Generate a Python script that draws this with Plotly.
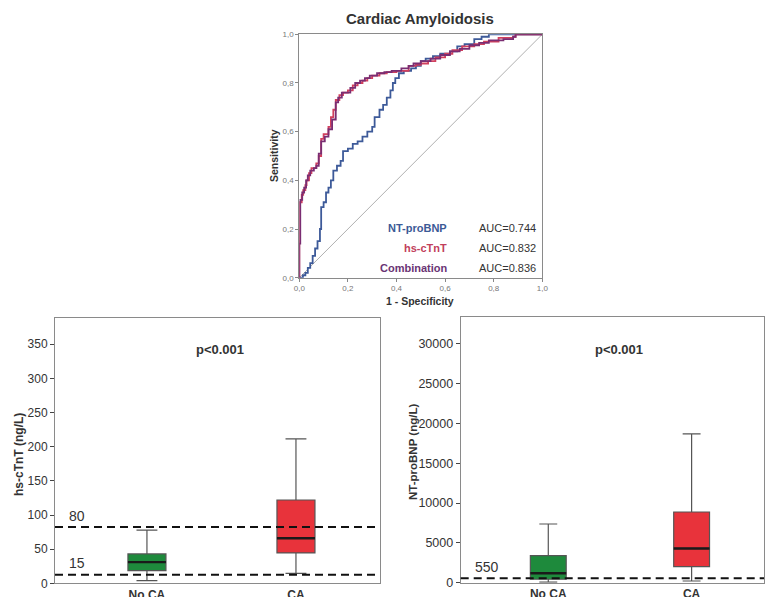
import plotly.graph_objects as go

W, H = 766, 597

# ---------------- ROC data ----------------
nt_fpr = [0, 0.015, 0.025, 0.035, 0.045, 0.055, 0.065, 0.075, 0.085, 0.09, 0.1, 0.11, 0.12, 0.13, 0.14,
          0.155, 0.17, 0.18, 0.2, 0.22, 0.24, 0.26, 0.28, 0.3, 0.31, 0.33, 0.345, 0.36, 0.375, 0.385,
          0.395, 0.41, 0.43, 0.46, 0.48, 0.5, 0.52, 0.55, 0.58, 0.62, 0.65, 0.68, 0.72, 0.75, 0.78, 0.88, 1.0]
nt_tpr = [0, 0.01, 0.02, 0.04, 0.06, 0.09, 0.12, 0.15, 0.2, 0.29, 0.31, 0.35, 0.37, 0.40, 0.44,
          0.46, 0.48, 0.52, 0.53, 0.55, 0.56, 0.58, 0.60, 0.62, 0.66, 0.69, 0.71, 0.74, 0.77, 0.80,
          0.82, 0.84, 0.85, 0.86, 0.87, 0.89, 0.90, 0.91, 0.92, 0.93, 0.95, 0.96, 0.98, 0.99, 1.0, 1.0, 1.0]

tn_fpr = [0, 0.0, 0.003, 0.01, 0.016, 0.025, 0.03, 0.04, 0.05, 0.07, 0.08, 0.09, 0.1, 0.12, 0.13,
          0.14, 0.15, 0.165, 0.18, 0.2, 0.22, 0.24, 0.26, 0.28, 0.3, 0.33, 0.36, 0.4, 0.45, 0.48,
          0.5, 0.53, 0.56, 0.6, 0.63, 0.67, 0.72, 0.76, 0.82, 0.88, 0.89, 1.0]
tn_tpr = [0, 0.15, 0.31, 0.34, 0.36, 0.38, 0.40, 0.43, 0.45, 0.47, 0.50, 0.57, 0.59, 0.62, 0.66,
          0.69, 0.73, 0.75, 0.76, 0.77, 0.79, 0.80, 0.81, 0.82, 0.83, 0.84, 0.845, 0.85, 0.87, 0.875,
          0.88, 0.89, 0.905, 0.92, 0.935, 0.95, 0.96, 0.97, 0.985, 0.99, 1.0, 1.0]

cb_fpr = [0, 0.0, 0.004, 0.012, 0.02, 0.028, 0.035, 0.045, 0.06, 0.07, 0.08, 0.09, 0.105, 0.12, 0.135,
          0.15, 0.16, 0.175, 0.19, 0.21, 0.23, 0.25, 0.27, 0.29, 0.32, 0.35, 0.38, 0.42, 0.45, 0.47,
          0.5, 0.54, 0.58, 0.62, 0.66, 0.7, 0.74, 0.78, 0.84, 0.88, 0.89, 1.0]
cb_tpr = [0, 0.14, 0.32, 0.35, 0.37, 0.40, 0.42, 0.44, 0.45, 0.46, 0.51, 0.56, 0.58, 0.61, 0.65,
          0.72, 0.74, 0.76, 0.76, 0.78, 0.80, 0.81, 0.82, 0.83, 0.84, 0.845, 0.85, 0.86, 0.87, 0.88,
          0.89, 0.90, 0.915, 0.93, 0.94, 0.955, 0.965, 0.975, 0.98, 0.99, 1.0, 1.0]

roc_names = ["NT-proBNP", "hs-cTnT", "Combination"]
roc_auc = ["AUC=0.744", "AUC=0.832", "AUC=0.836"]
roc_ticks = [0, 0.2, 0.4, 0.6, 0.8, 1.0]
roc_ticktext = ["0,0", "0,2", "0,4", "0,6", "0,8", "1,0"]

# ---------------- Box data ----------------
categories = ["No CA", "CA"]
tnt_lower = [4, 14.6]
tnt_q1 = [18.5, 44.5]
tnt_median = [31, 66]
tnt_q3 = [43, 122]
tnt_upper = [78, 211.5]
tnt_cutoffs = [82.5, 12.5]
tnt_cutoff_labels = ["80", "15"]

bnp_lower = [60, 213]
bnp_q1 = [430, 2008]
bnp_median = [1180, 4300]
bnp_q3 = [3390, 8870]
bnp_upper = [7368, 18664]
bnp_cutoffs = [560]
bnp_cutoff_labels = ["550"]

p_text = "p<0.001"

FONT = "Arial, Liberation Sans, sans-serif"
def px(x):
    return x / W
def py(y):
    return 1 - y / H

fig = go.Figure()

# ROC curves
roc_colors = ["#3d5a99", "#d1405e", "#7a2d72"]
for fpr, tpr, name, col in [(nt_fpr, nt_tpr, roc_names[0], roc_colors[0]),
                            (tn_fpr, tn_tpr, roc_names[1], roc_colors[1]),
                            (cb_fpr, cb_tpr, roc_names[2], roc_colors[2])]:
    fig.add_trace(go.Scatter(x=fpr, y=tpr, mode="lines", line=dict(color=col, width=1.8, shape="hv"),
                             name=name, xaxis="x", yaxis="y", showlegend=False))

box_colors = ["#1e8a3c", "#e8333b"]

def add_boxes(xa, ya, lower, q1, med, q3, upper, width, ww):
    for i, cat in enumerate(categories):
        fig.add_trace(go.Box(x=[i], lowerfence=[lower[i]], q1=[q1[i]], median=[med[i]], q3=[q3[i]],
                             upperfence=[upper[i]], width=width, whiskerwidth=ww,
                             fillcolor=box_colors[i], line=dict(color="#555555", width=1.2),
                             boxpoints=False, xaxis=xa, yaxis=ya, showlegend=False, name=cat))
        fig.add_trace(go.Scatter(x=[i - width / 2, i + width / 2], y=[med[i], med[i]], mode="lines",
                                 line=dict(color="#1a1a1a", width=2.4), xaxis=xa, yaxis=ya,
                                 showlegend=False, hoverinfo="skip"))

add_boxes("x2", "y2", tnt_lower, tnt_q1, tnt_median, tnt_q3, tnt_upper, 0.255, 0.55)
add_boxes("x3", "y3", bnp_lower, bnp_q1, bnp_median, bnp_q3, bnp_upper, 0.25, 0.5)

shapes = []
# ROC diagonal
shapes.append(dict(type="line", xref="x", yref="y", x0=0, y0=0, x1=1, y1=1,
                   line=dict(color="#b0b0b0", width=1), layer="below"))
for c in tnt_cutoffs:
    shapes.append(dict(type="line", xref="x2 domain", yref="y2", x0=0, x1=1, y0=c, y1=c,
                       line=dict(color="#111111", width=2, dash="8px,5px")))
for c in bnp_cutoffs:
    shapes.append(dict(type="line", xref="x3 domain", yref="y3", x0=0, x1=1, y0=c, y1=c,
                       line=dict(color="#111111", width=2, dash="8px,5px")))

ann = []
def note(text, x, y, size, color="#333333", xanchor="center", angle=0):
    ann.append(dict(text=text, x=px(x), y=py(y), xref="paper", yref="paper", xanchor=xanchor,
                    yanchor="middle", showarrow=False, textangle=angle,
                    font=dict(family=FONT, size=size, color=color)))

note("<b>Cardiac Amyloidosis</b>", 420, 18, 15)
note("<b>Sensitivity</b>", 274, 156, 10.5, angle=-90)
note("<b>1 - Specificity</b>", 420, 301, 10.5)
leg_cols = ["#3c5a96", "#c23f5c", "#6a3474"]
for i, (nm, auc) in enumerate(zip(roc_names, roc_auc)):
    yy = 228 + 20 * i
    note("<b>" + nm + "</b>", 449, yy, 11, color=leg_cols[i], xanchor="right")
    note(auc, 477, yy, 11, xanchor="left")

note("<b>hs-cTnT (ng/L)</b>", 19, 455, 12, angle=-90)
note("<b>NT-proBNP (ng/L)</b>", 413, 452, 11.5, angle=-90)
note("<b>" + p_text + "</b>", 220, 350, 13)
note("<b>" + p_text + "</b>", 619, 349, 13)
for lbl, yy in zip(tnt_cutoff_labels, [516, 563]):
    note(lbl, 77, yy, 14)
for lbl, yy in zip(bnp_cutoff_labels, [567]):
    note(lbl, 487, yy, 14)

axis_common = dict(showgrid=False, zeroline=False, showline=True, mirror=True, linecolor="#8a8a8a",
                   linewidth=1, automargin=False)

fig.update_layout(
    width=W, height=H, autosize=False, margin=dict(l=0, r=0, t=0, b=0, pad=0),
    paper_bgcolor="white", plot_bgcolor="white", showlegend=False,
    shapes=shapes, annotations=ann,
    xaxis=dict(domain=[px(299.3), px(542.3)], range=[0, 1], tickvals=roc_ticks, ticktext=roc_ticktext,
               ticks="outside", ticklen=3, tickcolor="#888", anchor="y",
               tickfont=dict(family=FONT, size=8, color="#777777"), **axis_common),
    yaxis=dict(domain=[py(277.7), py(34.3)], range=[0, 1], tickvals=roc_ticks, ticktext=roc_ticktext,
               ticks="outside", ticklen=3, tickcolor="#888", anchor="x",
               tickfont=dict(family=FONT, size=8, color="#777777"), **axis_common),
    xaxis2=dict(domain=[px(55), px(380)], range=[-0.617, 1.564], tickvals=[0, 1],
                ticktext=["<b>" + c + "</b>" for c in categories], ticks="", anchor="y2",
                tickfont=dict(family=FONT, size=12, color="#333333"), **axis_common),
    yaxis2=dict(domain=[py(583.3), py(318.3)], range=[0, 388], tickvals=[0, 50, 100, 150, 200, 250, 300, 350],
                ticks="outside", ticklen=4, tickcolor="#444", anchor="x2",
                tickfont=dict(family=FONT, size=12, color="#333333"), **axis_common),
    xaxis3=dict(domain=[px(460.7), px(764)], range=[-0.611, 1.505], tickvals=[0, 1],
                ticktext=["<b>" + c + "</b>" for c in categories], ticks="", anchor="y3",
                tickfont=dict(family=FONT, size=12, color="#333333"), **axis_common),
    yaxis3=dict(domain=[py(582.7), py(317.3)], range=[0, 33300],
                tickvals=[0, 5000, 10000, 15000, 20000, 25000, 30000], tickformat="d",
                ticks="outside", ticklen=4, tickcolor="#444", anchor="x3",
                tickfont=dict(family=FONT, size=12.5, color="#333333"), **axis_common),
)

fig.write_html("out.html", config={"displayModeBar": False},
               post_script="document.body.style.margin='0';document.body.style.overflow='hidden';")
